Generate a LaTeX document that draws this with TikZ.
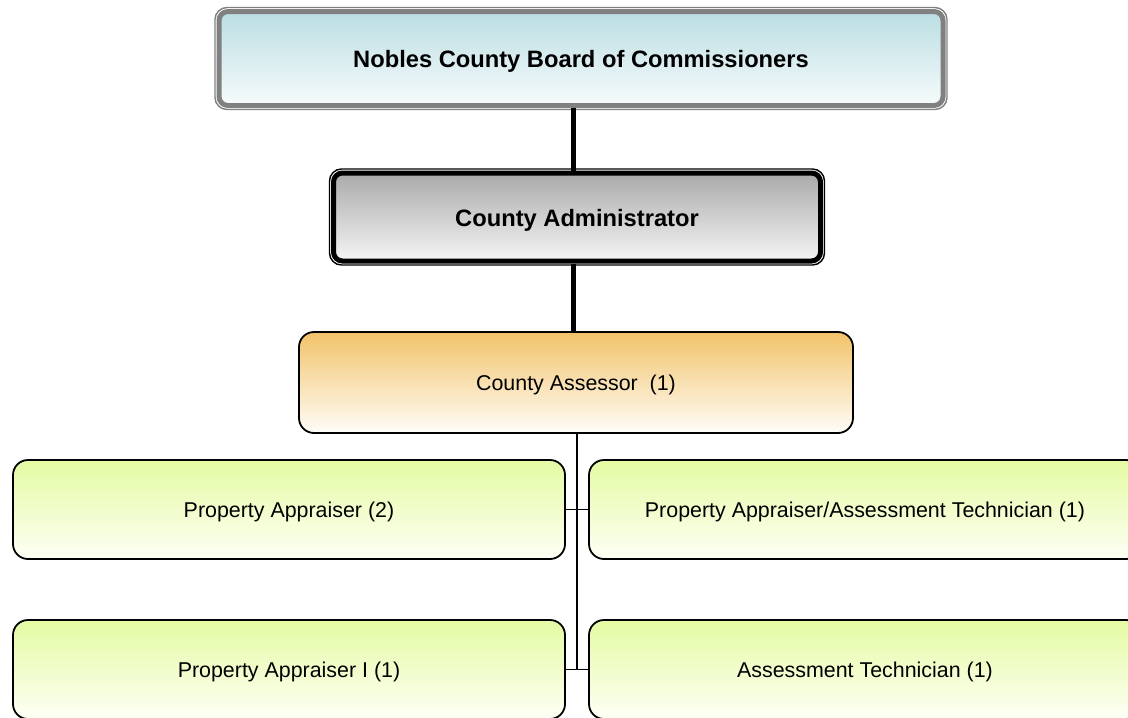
\documentclass[tikz,border=0pt]{standalone}
\usepackage{fontspec}
\setmainfont{Liberation Sans}
\usetikzlibrary{fit}
\definecolor{boardtop}{RGB}{186,222,226}
\definecolor{boardbot}{RGB}{247,251,252}
\definecolor{admintop}{RGB}{170,170,170}
\definecolor{adminbot}{RGB}{245,245,245}
\definecolor{assesstop}{RGB}{242,195,106}
\definecolor{assessbot}{RGB}{255,253,249}
\definecolor{stafftop}{RGB}{228,251,162}
\definecolor{staffbot}{RGB}{254,255,246}
\definecolor{framegray}{RGB}{128,128,128}
\tikzset{
    boardbox/.style={draw=framegray, line width=5pt, rounded corners=9pt,
        top color=boardtop, bottom color=boardbot,
        minimum width=724pt, minimum height=94pt,
        text height=17pt, text depth=0pt,
        font=\fontsize{23.7}{28}\selectfont\bfseries},
    adminbox/.style={draw=black, line width=5pt, rounded corners=9pt,
        top color=admintop, bottom color=adminbot,
        minimum width=487pt, minimum height=88pt,
        text height=18pt, text depth=0pt,
        font=\fontsize{23.7}{28}\selectfont\bfseries},
    outerframe/.style={draw=#1, line width=1.4pt, rounded corners=12pt, inner sep=1.5pt},
    assessorbox/.style={draw=black, line width=1.8pt, rounded corners=15pt,
        top color=assesstop, bottom color=assessbot,
        minimum width=554pt, minimum height=101pt,
        text height=16pt, text depth=0pt,
        font=\fontsize{21.4}{25}\selectfont},
    staffbox/.style={draw=black, line width=1.8pt, rounded corners=15pt,
        top color=stafftop, bottom color=staffbot,
        minimum width=552pt, minimum height=99pt,
        text height=16pt, text depth=0pt,
        font=\fontsize{21.4}{25}\selectfont},
    link/.style={line width=5pt},
    thinlink/.style={line width=1.6pt}
}
\begin{document}
\begin{tikzpicture}[x=1pt, y=-1pt]
    \useasboundingbox (0,0) rectangle (1128,718);
    \clip (0,0) rectangle (1128,718);
    % top of the chart
    \node[boardbox] (board) at (581,58.5) {Nobles County Board of Commissioners};
    \node[outerframe=framegray, fit=(board)] (boardframe) {};
    \node[adminbox] (admin) at (577,217) {County Administrator};
    \node[outerframe=black, fit=(admin)] (adminframe) {};
    \node[assessorbox] (assessor) at (576,382.5) {County Assessor\ \ (1)};
    % staff
    \node[staffbox] (pa) at (289,509.5) {Property Appraiser (2)};
    \node[staffbox] (pat) at (865,509.5) {Property Appraiser/Assessment Technician (1)};
    \node[staffbox] (pai) at (289,669.5) {Property Appraiser I (1)};
    \node[staffbox] (at) at (865,669.5) {Assessment Technician (1)};
    % connectors
    \draw[link] (admin.north -| 573,0) -- (board.south -| 573,0);
    \draw[link] (assessor.north -| 573,0) -- (admin.south -| 573,0);
    \draw[thinlink] (assessor.south -| 577,0) -- (at.west -| 577,0);
    \draw[thinlink] (pa.east) -- (pat.west);
    \draw[thinlink] (pai.east) -- (at.west);
\end{tikzpicture}
\end{document}
